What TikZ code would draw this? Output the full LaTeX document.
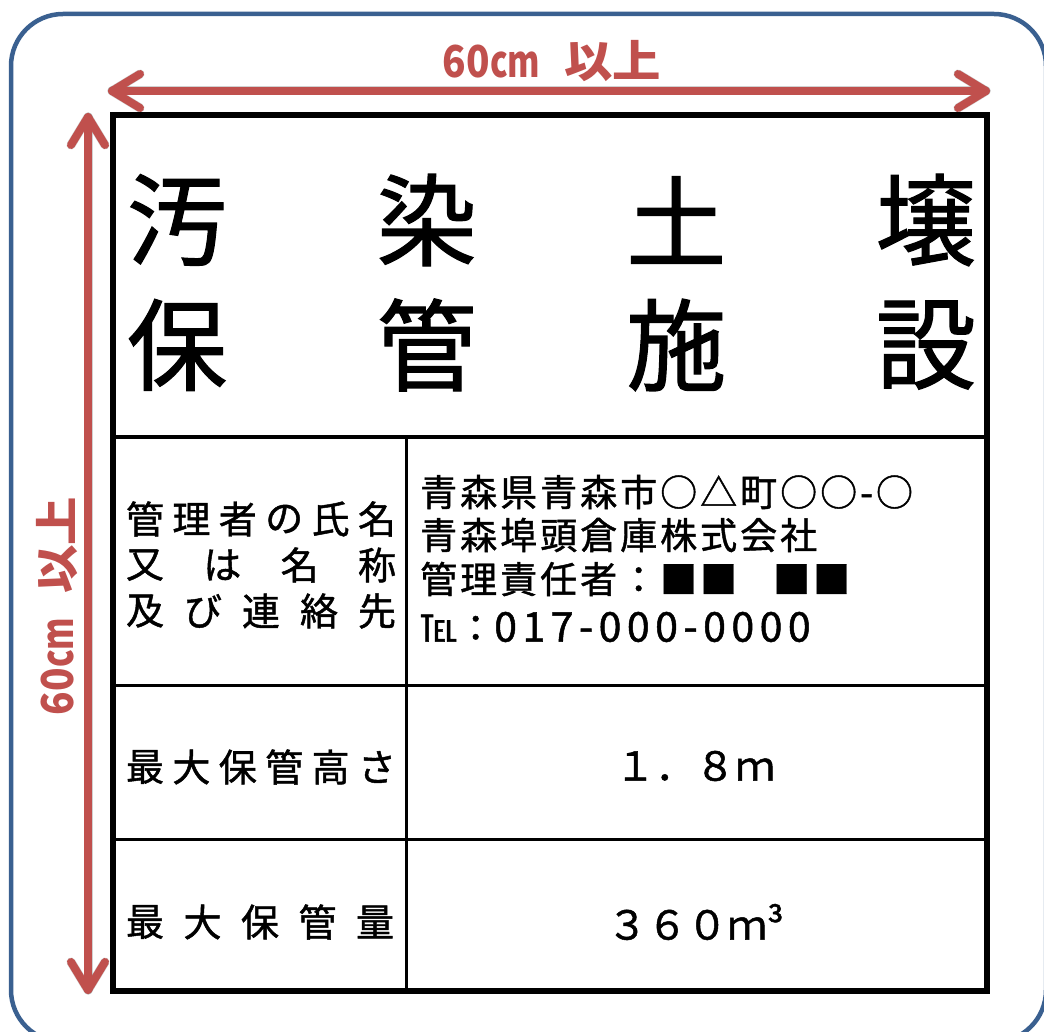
\documentclass[tikz,border=0pt]{standalone}
\usepackage{fontspec}
\newfontfamily\jp{Noto Sans CJK JP}[FakeBold=1.2]
\newfontfamily\jpred{Noto Sans CJK JP}
\definecolor{dimred}{HTML}{C0504D}
\definecolor{frameblue}{HTML}{3A6090}
\def\spcloop#1{\ifx#1\relax\else#1\kern\spcK\relax\expandafter\spcloop\fi}
\newcommand\spc[2]{\def\spcK{#1}\spcloop#2\relax}
\newcommand\dimlabel{\scalebox{0.88}[1]{60}\scalebox{0.75}[1]{cm}\hspace{24pt}\scalebox{1.1}[1]{以上}}
\begin{document}
\begin{tikzpicture}[x=1pt,y=-1pt,
  thinline/.style={line width=3pt,black},
  dimarrow/.style={dimred,line width=8pt,line cap=round,line join=round},
  dimshadow/.style={black,opacity=0.18,line width=9pt,line cap=round,line join=round},
  titlechar/.style={font=\jp\fontsize{100}{100}\selectfont,inner sep=0pt},
  lbl/.style={font=\jp\fontsize{38}{38}\selectfont,inner sep=0pt},
  info/.style={font=\jp\fontsize{37}{37}\selectfont,inner sep=0pt,anchor=west},
  val/.style={font=\jp\fontsize{40}{40}\selectfont,inner sep=0pt,anchor=west},
  dimtext/.style={font=\jpred\bfseries\fontsize{44}{44}\selectfont,text=dimred,inner sep=0pt}]
\useasboundingbox (0,0) rectangle (1044,1032);
\fill[white] (0,0) rectangle (1044,1032);
\begin{scope}
  \clip (0,0) rectangle (1044,1032);
  \draw[frameblue,line width=4.5pt,rounded corners=52pt] (11,14) rectangle (1046,1042);
\end{scope}

% sign frame
\coordinate (sTL) at (113,115);
\coordinate (sBR) at (987,991);
\draw[line width=4.5pt] (113,437) -- (987,437);
\draw[thinline] (406,437) -- (406,991);
\draw[thinline] (113,685) -- (987,685);
\draw[thinline] (113,839) -- (987,839);
\draw[line width=6pt] (sTL) rectangle (sBR);

% title
\foreach \c [count=\i from 0] in {汚,染,土,壌}
  \node[titlechar] (ta\i) at ({177+\i*249.67},220) {\c};
\foreach \c [count=\i from 0] in {保,管,施,設}
  \node[titlechar] (tb\i) at ({177+\i*249.67},345) {\c};

% left labels
\foreach \c [count=\i from 0] in {管,理,者,の,氏,名}
  \node[lbl] (la\i) at ({145+\i*46.4},519) {\c};
\foreach \c [count=\i from 0] in {又,は,名,称}
  \node[lbl] (lb\i) at ({145+\i*77.33},565) {\c};
\foreach \c [count=\i from 0] in {及,び,連,絡,先}
  \node[lbl] (lc\i) at ({145+\i*58},611) {\c};
\foreach \c [count=\i from 0] in {最,大,保,管,高,さ}
  \node[lbl] (ld\i) at ({145+\i*46.4},767) {\c};
\foreach \c [count=\i from 0] in {最,大,保,管,量}
  \node[lbl] (le\i) at ({145+\i*57.5},922) {\c};

% right column
\node[info] (addr) at (420,492) {\spc{3pt}{青森県青森市○△町○○-○}};
\node[info] (comp) at (420,535) {\spc{3pt}{青森埠頭倉庫株式会社}};
\node[info] (mgr)  at (420,579) {\spc{3pt}{管理責任者：■■}\kern-4pt　\spc{3pt}{■■}};
\node[info] (tel)  at (420,627) {℡：{\fontsize{41}{41}\selectfont\spc{5.5pt}{017-000-0000}}};
\node[val] (hval) at (615,766) {１．８ｍ};
\node[val] (vval) at (607,922) {３６０ｍ³};

% dimension arrows
\coordinate (hL) at (112,91);
\coordinate (hR) at (986,91);
\coordinate (vT) at (88,117);
\coordinate (vB) at (88,990);
\begin{scope}[shift={(2,4)}]
  \draw[dimshadow] (hL) -- (hR);
  \draw[dimshadow] (hL) ++(28,-17) -- (hL) -- ++(28,17);
  \draw[dimshadow] (hR) ++(-28,-17) -- (hR) -- ++(-28,17);
  \draw[dimshadow] (vT) -- (vB);
  \draw[dimshadow] (vT) ++(-17,28) -- (vT) -- ++(17,28);
  \draw[dimshadow] (vB) ++(-17,-28) -- (vB) -- ++(17,-28);
\end{scope}
\draw[dimarrow] (hL) -- (hR);
\draw[dimarrow] (hL) ++(28,-17) -- (hL) -- ++(28,17);
\draw[dimarrow] (hR) ++(-28,-17) -- (hR) -- ++(-28,17);
\draw[dimarrow] (vT) -- (vB);
\draw[dimarrow] (vT) ++(-17,28) -- (vT) -- ++(17,28);
\draw[dimarrow] (vB) ++(-17,-28) -- (vB) -- ++(17,-28);

\node[dimtext] (wlabel) at (552,61) {\dimlabel};
\node[dimtext,rotate=90] (hlabel) at (57,606) {\dimlabel};
\end{tikzpicture}
\end{document}
